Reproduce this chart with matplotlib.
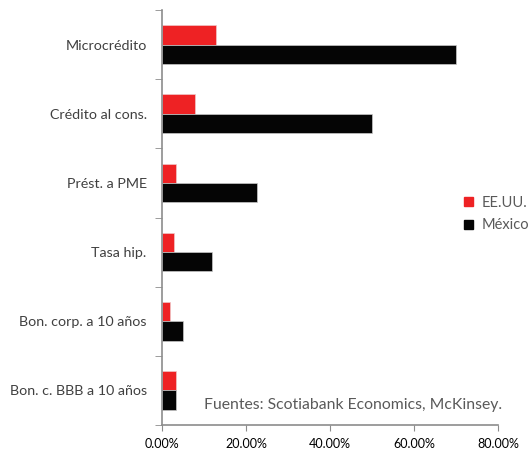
import matplotlib.pyplot as plt
import matplotlib.ticker as mticker
from matplotlib.patches import Patch
import numpy as np

plt.rcParams['font.family'] = ['Lato', 'DejaVu Sans']

categorias = ["Microcrédito", "Crédito al cons.", "Prést. a PME", "Tasa hip.",
              "Bon. corp. a 10 años", "Bon. c. BBB a 10 años"]
eeuu = [0.129, 0.079, 0.034, 0.029, 0.019, 0.034]
mexico = [0.70, 0.499, 0.225, 0.12, 0.049, 0.034]
xticks = [0, 0.2, 0.4, 0.6, 0.8]

rojo = '#ee2224'
negro = '#050505'
gris = '#8c8c8c'

fig = plt.figure(figsize=(5.3, 4.49), dpi=100)
ax = fig.add_axes([162/530, 24/449, 336/530, 415/449])

y = np.arange(len(categorias))
h = 0.28
ax.barh(y - h/2, eeuu, height=h, color=rojo, edgecolor='#f0c8c8', linewidth=0.5)
ax.barh(y + h/2, mexico, height=h, color=negro, edgecolor='#c8c8c8', linewidth=0.5)

ax.set_ylim(len(categorias) - 0.5, -0.5)
ax.set_xlim(0, 0.8)
ax.set_yticks(y)
ax.set_yticklabels(categorias, fontsize=10.3, color='#404040')
ax.set_yticks(np.arange(-0.5, len(categorias)), minor=True)
ax.tick_params(axis='y', which='major', length=0, pad=11)
ax.tick_params(axis='y', which='minor', length=5, color=gris, direction='out')
ax.set_xticks(xticks)
ax.xaxis.set_major_formatter(mticker.FuncFormatter(lambda v, p: '{:.2%}'.format(v)))
ax.tick_params(axis='x', length=4, color=gris, labelsize=9, pad=5)

for s in ['top', 'right']:
    ax.spines[s].set_visible(False)
for s in ['left', 'bottom']:
    ax.spines[s].set_color(gris)
    ax.spines[s].set_linewidth(1.2)

ax.text(0.125, 0.048, "Fuentes: Scotiabank Economics, McKinsey.", transform=ax.transAxes,
        fontsize=11.3, color='#595959', va='center', ha='left')

handles = [Patch(color=rojo, label='EE.UU.'), Patch(color=negro, label='México')]
ax.legend(handles=handles, loc='center left', bbox_to_anchor=(457/530, 1 - 214/449),
          bbox_transform=fig.transFigure, frameon=False, fontsize=10.5,
          handlelength=0.6, handleheight=0.6, handletextpad=0.6, labelspacing=0.6,
          labelcolor='#595959', borderpad=0)

fig.savefig('out.png', dpi=100)
